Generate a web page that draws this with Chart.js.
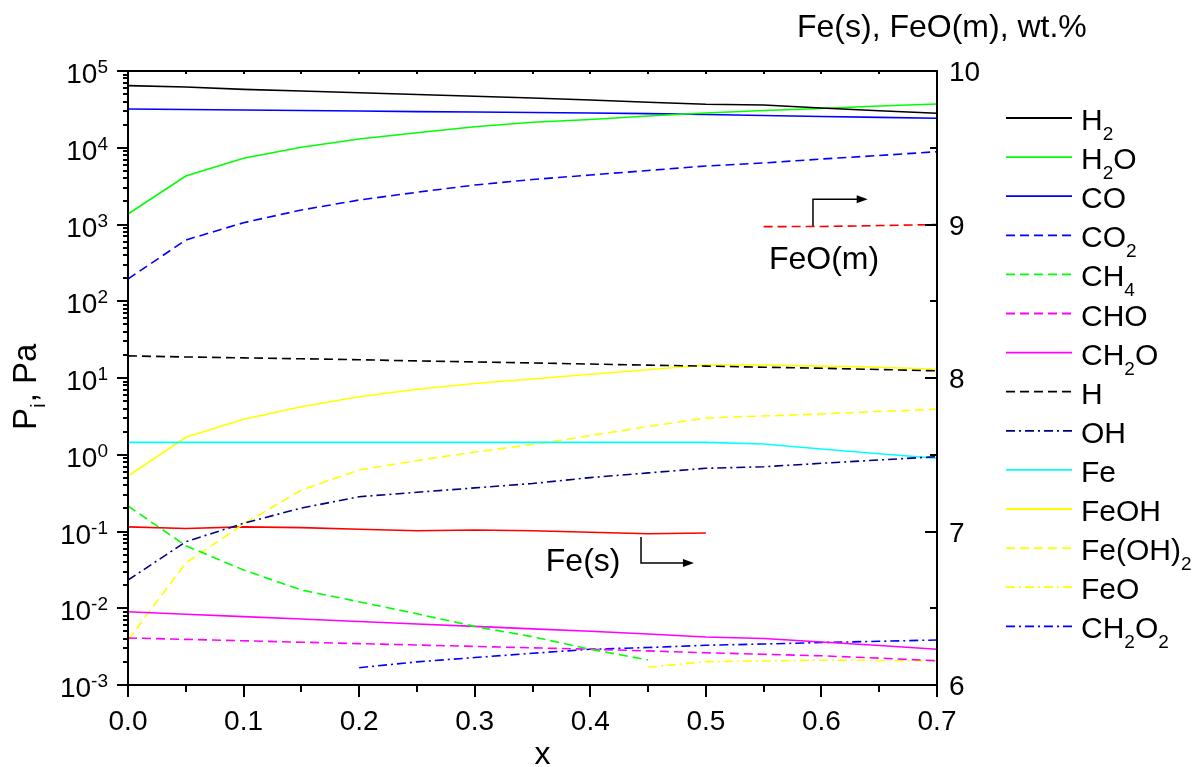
<!DOCTYPE html>
<html><head><meta charset="utf-8">
<script src="https://cdn.jsdelivr.net/npm/chart.js@4.4.1/dist/chart.umd.min.js"></script>
<style>html,body{margin:0;padding:0;background:#fff;overflow:hidden}</style>
</head><body>
<canvas id="c" width="1196" height="767" style="display:block;width:1196px;height:767px"></canvas>
<script>
// ---- data ----
const xs = [0,0.05,0.1,0.15,0.2,0.25,0.3,0.35,0.4,0.45,0.5,0.55,0.6,0.65,0.7];
const H2    = [64400,61900,57600,55000,52000,49300,46800,44500,41800,39200,36800,36100,33000,30400,28100];
const H2O   = [1371,4285,7285,10140,13000,15700,18800,21460,23340,25930,28370,30570,32470,35000,37150];
const CO    = [32000,31500,31000,30600,30100,29600,29200,28800,28400,27800,27100,26300,25500,24900,24200];
const CO2   = [195,628,1055,1545,2085,2630,3270,3857,4415,5053,5785,6330,7135,7925,8880];
const CH4   = [0.215,0.0653,0.0315,0.0173,0.01214,0.00847,0.0058,0.00425,0.00292,0.00212,null,null,null,null,null];
const CHO   = [0.0041,0.00393,0.00377,0.00361,0.00346,0.00332,0.00318,0.00305,0.00293,0.00278,0.00263,0.00251,0.0024,0.00224,0.00207];
const CH2O  = [0.00902,0.00836,0.00778,0.00724,0.00672,0.00624,0.0058,0.00538,0.00501,0.00462,0.00422,0.00404,0.00363,0.00327,0.00292];
const H     = [19.4,18.8,18.3,17.8,17.3,16.7,16.2,15.7,15.2,14.7,14.3,13.8,13.4,12.9,12.4];
const OH    = [0.0233,0.0736,0.128,0.202,0.284,0.324,0.370,0.422,0.504,0.580,0.666,0.698,0.774,0.855,0.943];
const Fe    = [1.45,1.45,1.45,1.45,1.45,1.45,1.45,1.45,1.45,1.45,1.45,1.38,1.19,1.03,0.90];
const FeOH  = [0.528,1.688,2.897,4.23,5.71,7.13,8.48,9.7,11.2,12.8,14.8,14.8,14.3,13.8,13.0];
const FeOH2 = [0.00386,0.0389,0.125,0.347,0.633,0.841,1.086,1.36,1.78,2.33,3.01,3.2,3.4,3.66,3.91];
const FeO   = [null,null,null,null,null,null,null,null,null,0.0017,0.00201,0.00205,0.00212,0.00209,0.00206];
const CH2O2 = [null,null,null,null,0.00168,0.002,0.00228,0.00259,0.00292,0.00308,0.00329,0.00342,0.00358,0.00371,0.00386];
const FeS   = [7.03,7.02,7.03,7.025,7.015,7.005,7.01,7.005,6.995,6.985,6.99,null,null,null,null];
const FeOm  = [null,null,null,null,null,null,null,null,null,null,null,8.986,8.987,8.993,9.0];

const xTickValues = [0,0.05,0.1,0.15,0.2,0.25,0.3,0.35,0.4,0.45,0.5,0.55,0.6,0.65,0.7];
const xTickLabels = ['0.0','0.1','0.2','0.3','0.4','0.5','0.6','0.7'];
const yExponents = [-3,-2,-1,0,1,2,3,4,5];
const y2TickValues = [6,6.5,7,7.5,8,8.5,9,9.5,10];
const y2TickLabels = ['6','7','8','9','10'];

const FONT = '"Liberation Sans", Arial, Helvetica, sans-serif';
const DASH = [9,5];
const DASHDOT = [9,4,2,4];

function ser(label, arr, color, dash, axis, inLegend){
  return {
    label, data: xs.map((x,i)=>({x, y: arr[i]})),
    borderColor: color, backgroundColor: color, borderWidth: 1.6,
    borderDash: dash || [], pointRadius: 0, tension: 0, fill: false,
    yAxisID: axis || 'y', spanGaps: false, inLegend: inLegend !== false
  };
}

const datasets = [
  ser('H2', H2, '#000000'),
  ser('H2O', H2O, '#00ff00'),
  ser('CO', CO, '#0000ff'),
  ser('CO2', CO2, '#0000ff', DASH),
  ser('CH4', CH4, '#00ff00', DASH),
  ser('CHO', CHO, '#ff00ff', DASH),
  ser('CH2O', CH2O, '#ff00ff'),
  ser('H', H, '#000000', DASH),
  ser('OH', OH, '#000080', DASHDOT),
  ser('Fe', Fe, '#00ffff'),
  ser('FeOH', FeOH, '#ffff00'),
  ser('Fe(OH)2', FeOH2, '#ffff00', DASH),
  ser('FeO', FeO, '#ffff00', DASHDOT),
  ser('CH2O2', CH2O2, '#0000ff', DASHDOT),
  ser('Fe(s)', FeS, '#ff0000', null, 'y2', false),
  ser('FeO(m)', FeOm, '#ff0000', DASH, 'y2', false)
];

// draw text where digits become subscripts
function drawChem(ctx, text, x, y, size){
  const sub = Math.round(size*0.64);
  let cx = x;
  for (const ch of text){
    if (/[0-9]/.test(ch)){
      ctx.font = sub + 'px ' + FONT;
      ctx.fillText(ch, cx, y + size*0.33);
      cx += ctx.measureText(ch).width;
    } else {
      ctx.font = size + 'px ' + FONT;
      ctx.fillText(ch, cx, y);
      cx += ctx.measureText(ch).width;
    }
  }
  return cx - x;
}

function line(ctx, x1, y1, x2, y2){ ctx.beginPath(); ctx.moveTo(x1,y1); ctx.lineTo(x2,y2); ctx.stroke(); }

const deco = {
  id: 'deco',
  afterDatasetsDraw(chart){
    const {ctx, chartArea: a, scales} = chart;
    const xS = scales.x, yS = scales.y, y2S = scales.y2;
    ctx.save();
    ctx.strokeStyle = '#000'; ctx.fillStyle = '#000';
    ctx.setLineDash([]);
    ctx.lineWidth = 2;
    ctx.strokeRect(a.left, a.top, a.right - a.left, a.bottom - a.top);

    // x ticks (bottom outward, top small inward)
    xTickValues.forEach((v, i) => {
      const px = Math.round(xS.getPixelForValue(v));
      line(ctx, px, a.bottom, px, a.bottom + (i % 2 === 0 ? 12 : 7));
      line(ctx, px, a.top, px, a.top + 3);
    });
    // left log ticks (outward)
    yExponents.forEach(n => {
      const py = Math.round(yS.getPixelForValue(Math.pow(10, n)));
      line(ctx, a.left - 11, py, a.left, py);
      if (n < 5){
        for (let k = 2; k <= 9; k++){
          const pm = Math.round(yS.getPixelForValue(k * Math.pow(10, n)));
          line(ctx, a.left - 5, pm, a.left, pm);
        }
      }
    });
    // right linear ticks (inward)
    y2TickValues.forEach((v, i) => {
      const py = Math.round(y2S.getPixelForValue(v));
      line(ctx, a.right - (i % 2 === 0 ? 12 : 7), py, a.right, py);
    });

    // tick labels
    ctx.textBaseline = 'alphabetic';
    ctx.font = '28px ' + FONT; ctx.textAlign = 'center';
    xTickLabels.forEach(t => {
      const px = xS.getPixelForValue(parseFloat(t));
      ctx.fillText(t, px, a.bottom + 45);
    });
    yExponents.forEach(n => {
      const py = yS.getPixelForValue(Math.pow(10, n));
      const ex = String(n);
      ctx.font = '19px ' + FONT; ctx.textAlign = 'left';
      const ew = ctx.measureText(ex).width;
      const right = a.left - 20;
      ctx.fillText(ex, right - ew, py + 2);
      ctx.font = '28px ' + FONT; ctx.textAlign = 'right';
      ctx.fillText('10', right - ew, py + 12);
    });
    ctx.font = '28px ' + FONT; ctx.textAlign = 'left';
    y2TickLabels.forEach(t => {
      const py = y2S.getPixelForValue(parseFloat(t));
      ctx.fillText(t, a.right + 12, py + 10);
    });

    // axis titles
    ctx.font = '32px ' + FONT;
    ctx.textAlign = 'center';
    ctx.fillText('x', (a.left + a.right) / 2 + 10, 764);
    ctx.textAlign = 'left';
    ctx.fillText('Fe(s), FeO(m), wt.%', a.right - 140, 37);
    // left title rotated
    ctx.save();
    ctx.translate(36, 430);
    ctx.rotate(-Math.PI / 2);
    ctx.font = '33px ' + FONT;
    ctx.fillText('P', 0, 0);
    let w = ctx.measureText('P').width;
    ctx.font = '21px ' + FONT;
    ctx.fillText('i', w, 9);
    w += ctx.measureText('i').width + 1;
    ctx.font = '33px ' + FONT;
    ctx.fillText(', Pa', w, 0);
    ctx.restore();

    // annotations (in data units)
    ctx.lineWidth = 1.5;
    ctx.font = '32px ' + FONT; ctx.textAlign = 'left';
    const arrow = (x0, yA, yB, x1) => {
      const px0 = xS.getPixelForValue(x0), pyA = y2S.getPixelForValue(yA), pyB = y2S.getPixelForValue(yB);
      const px1 = xS.getPixelForValue(x1);
      ctx.beginPath(); ctx.moveTo(px0, pyA); ctx.lineTo(px0, pyB); ctx.lineTo(px1 - 8, pyB); ctx.stroke();
      ctx.beginPath(); ctx.moveTo(px1, pyB); ctx.lineTo(px1 - 11, pyB - 4); ctx.lineTo(px1 - 11, pyB + 4); ctx.closePath(); ctx.fill();
    };
    arrow(0.5927, 8.99, 9.164, 0.640);
    ctx.fillText('FeO(m)', xS.getPixelForValue(0.5546), y2S.getPixelForValue(8.71));
    arrow(0.4439, 6.964, 6.795, 0.4897);
    ctx.fillText('Fe(s)', xS.getPixelForValue(0.3615), y2S.getPixelForValue(6.745));

    // legend
    const lx0 = 1006, lx1 = 1072, ltx = 1081, ly0 = 118, lstep = 39.1;
    let row = 0;
    chart.data.datasets.forEach(ds => {
      if (!ds.inLegend) return;
      const yy = ly0 + row * lstep;
      ctx.strokeStyle = ds.borderColor; ctx.lineWidth = 1.8;
      ctx.setLineDash(ds.borderDash);
      line(ctx, lx0, yy, lx1, yy);
      ctx.setLineDash([]);
      ctx.fillStyle = '#000'; ctx.textAlign = 'left';
      drawChem(ctx, ds.label, ltx, yy + 12, 30);
      row++;
    });
    ctx.restore();
  }
};

new Chart(document.getElementById('c'), {
  type: 'line',
  data: { datasets },
  options: {
    responsive: false, animation: false, devicePixelRatio: 1,
    layout: { padding: { left: 128, top: 71, right: 259, bottom: 82 } },
    plugins: { legend: { display: false }, tooltip: { enabled: false }, title: { display: false } },
    scales: {
      x: { type: 'linear', min: 0, max: 0.7, display: false },
      y: { type: 'logarithmic', min: 1e-3, max: 1e5, display: false },
      y2: { type: 'linear', min: 6, max: 10, display: false, position: 'right' }
    }
  },
  plugins: [deco]
});
</script>
</body></html>
